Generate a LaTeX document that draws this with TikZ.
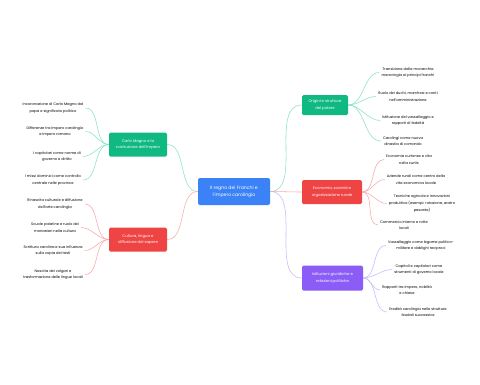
\documentclass[tikz,border=0pt]{standalone}
\usepackage{fontspec}
\setmainfont{Poppins}
\definecolor{rootblue}{HTML}{3B82F6}
\definecolor{topicgreen}{HTML}{10B981}
\definecolor{topicred}{HTML}{EF4444}
\definecolor{topicpurple}{HTML}{8B5CF6}
\definecolor{linkgreen}{HTML}{86E3C3}
\definecolor{linkred}{HTML}{F9A8A8}
\definecolor{linkpurple}{HTML}{C7B8FB}
\tikzset{
  root/.style={fill=rootblue,text=white,rounded corners=2pt,minimum width=72pt,minimum height=27pt,align=center,font=\fontsize{4.6}{7.2}\selectfont},
  topic/.style={text=white,rounded corners=1.5pt,minimum height=24pt,align=center,inner xsep=3pt,font=\fontsize{3.8}{6.6}\selectfont},
  leaf/.style={align=center,inner sep=2pt,font=\fontsize{3.6}{6.6}\selectfont},
  link/.style={line width=0.55pt,looseness=0.9}
}
\begin{document}
\begin{tikzpicture}[x=1pt,y=-1pt]
\useasboundingbox[fill=white] (0,0) rectangle (480,384);
% centro
\node[root] (regno) at (234,191.5) {Il regno dei Franchi e\\l'impero carolingio};
% rami
\node[topic,fill=topicgreen,minimum width=58pt] (carlo) at (138,144.5) {Carlo Magno e la\\costruzione dell'impero};
\node[topic,fill=topicred,minimum width=58pt] (cultura) at (138,239.5) {Cultura, lingua e\\diffusione del sapere};
\node[topic,fill=topicgreen,minimum width=46pt,minimum height=20pt] (origini) at (325,105) {Origini e struttura\\del potere};
\node[topic,fill=topicred,minimum width=60pt] (economia) at (332,192) {Economia, società e\\organizzazione rurale};
\node[topic,fill=topicpurple,minimum width=61pt,minimum height=25pt] (istituzioni) at (332.5,278) {Istituzioni giuridiche e\\relazioni politiche};
\draw[link,linkgreen] (regno.west) to[out=180,in=0] (carlo.east);
\draw[link,linkred] (regno.west) to[out=180,in=0] (cultura.east);
\draw[link,linkgreen] (regno.east) to[out=0,in=180] (origini.west);
\draw[link,linkred] (regno.east) to[out=0,in=180] (economia.west);
\draw[link,linkpurple] (regno.east) to[out=0,in=180] (istituzioni.west);
% foglie a sinistra
\node[leaf] (c1) at (53,108) {Incoronazione di Carlo Magno dal\\papa e significato politico};
\node[leaf] (c2) at (55,131.5) {Differenze tra impero carolingio\\e impero romano};
\node[leaf] (c3) at (57,156.5) {I capitolari come norme di\\governo e diritto};
\node[leaf] (c4) at (53,180) {I missi dominici come controllo\\centrale nelle province};
\node[leaf] (k1) at (55,204) {Rinascita culturale e diffusione\\dell'arte carolingia};
\node[leaf] (k2) at (55,227.5) {Scuole palatine e ruolo dei\\monasteri nella cultura};
\node[leaf] (k3) at (53,250.5) {Scrittura carolina e sua influenza\\sulla copia dei testi};
\node[leaf] (k4) at (53,274.5) {Nascita dei volgari e\\trasformazione delle lingue locali};
\foreach \f in {c1,c2,c3,c4}
  \draw[link,linkgreen] (carlo.west) to[out=180,in=0] (\f.east);
\foreach \f in {k1,k2,k3,k4}
  \draw[link,linkred] (cultura.west) to[out=180,in=0] (\f.east);
% foglie a destra
\node[leaf] (o1) at (408,72.5) {Transizione dalla monarchia\\merovingia ai principi franchi};
\node[leaf] (o2) at (408,96.5) {Ruolo dei duchi, marchesi e conti\\nell'amministrazione};
\node[leaf] (o3) at (408,120.5) {Istituzione del vassallaggio e\\rapporti di fedeltà};
\node[leaf] (o4) at (403,141) {Carolingi come nuova\\dinastia di comando};
\node[leaf] (e1) at (409,159.5) {Economia curtense e vita\\nella curtis};
\node[leaf] (e2) at (416,179.5) {Aziende rurali come centro della\\vita economica locale};
\node[leaf] (e3) at (422,203.5) {Tecniche agricole e innovazioni\\produttive (esempi: rotazione, aratro\\pesante)};
\node[leaf] (e4) at (404,225) {Commercio interno e rotte\\locali};
\node[leaf] (i1) at (421,245.5) {Vassallaggio come legame politico-\\militare e obblighi reciproci};
\node[leaf] (i2) at (419,269.5) {Capitoli e capitolari come\\strumenti di governo locale};
\node[leaf] (i3) at (407,290) {Rapporti tra impero, nobiltà\\e chiesa};
\node[leaf] (i4) at (418,312) {Eredità carolingia nelle strutture\\feudali successive};
\foreach \f in {o1,o2,o3,o4}
  \draw[link,linkgreen] (origini.east) to[out=0,in=180] (\f.west);
\foreach \f in {e1,e2,e3,e4}
  \draw[link,linkred] (economia.east) to[out=0,in=180] (\f.west);
\foreach \f in {i1,i2,i3,i4}
  \draw[link,linkpurple] (istituzioni.east) to[out=0,in=180] (\f.west);
\end{tikzpicture}
\end{document}
